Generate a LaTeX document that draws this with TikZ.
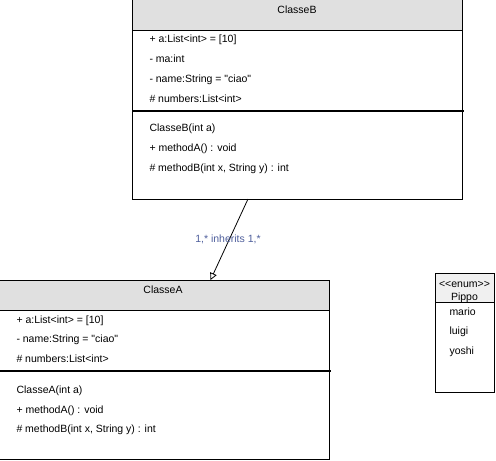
\documentclass[tikz,border=0pt]{standalone}
\usepackage{fontspec}
\setmainfont{Liberation Sans}
\usetikzlibrary{arrows.meta}
\definecolor{headgray}{HTML}{E0E0E0}
\definecolor{enumgray}{HTML}{F0F0F0}
\definecolor{linkblue}{HTML}{4F5F9C}
\begin{document}
\begin{tikzpicture}[x=1pt, y=-1pt, line width=1pt,
    member/.style={anchor=base west, inner sep=0pt,
        font=\fontsize{10.5}{12}\selectfont},
    classname/.style={anchor=base, inner sep=0pt,
        font=\fontsize{10.5}{12}\selectfont},
    separator/.style={line width=2pt}]
\useasboundingbox (0,0) rectangle (496,461);
% ClasseB
\begin{scope}
    \draw[fill=headgray] (132,-2) rectangle (462,30);
    \draw (132,30) rectangle (462,199);
    \draw[separator] (132,110.5) -- (464,110.5);
    \node[classname] (bName) at (297,13) {ClasseB};
    \node[member] (bAttrA) at (149,42) {+ a:List<int> = [10]};
    \node[member] (bAttrMa) at (149,62) {- ma:int};
    \node[member] (bAttrName) at (149,82)
        {- name:String = \textquotedbl ciao\textquotedbl};
    \node[member] (bAttrNum) at (149,102) {\# numbers:List<int>};
    \node[member] (bCtor) at (149,131) {ClasseB(int a)};
    \node[member] (bMethA) at (149,151) {+ methodA() : void};
    \node[member] (bMethB) at (149,171) {\# methodB(int x, String y) : int};
    \coordinate (bFoot) at (248,199);
\end{scope}
% ClasseA
\begin{scope}
    \draw[fill=headgray] (-3,280) rectangle (329,310);
    \draw (-3,310) rectangle (329,459);
    \draw[separator] (-3,370.5) -- (331,370.5);
    \node[classname] (aName) at (163,293) {ClasseA};
    \node[member] (aAttrA) at (16,323) {+ a:List<int> = [10]};
    \node[member] (aAttrName) at (16,342)
        {- name:String = \textquotedbl ciao\textquotedbl};
    \node[member] (aAttrNum) at (16,362) {\# numbers:List<int>};
    \node[member] (aCtor) at (16,393) {ClasseA(int a)};
    \node[member] (aMethA) at (16,413) {+ methodA() : void};
    \node[member] (aMethB) at (16,432) {\# methodB(int x, String y) : int};
    \coordinate (aHead) at (210.5,280);
\end{scope}
% Pippo
\begin{scope}
    \draw[fill=enumgray] (435,273) rectangle (494,302);
    \draw (435,302) rectangle (494,392);
    \node[classname] (pStereo) at (464.5,287) {<{}<enum>{}>};
    \node[classname] (pName) at (464.5,300.5) {Pippo};
    \node[member] (pMario) at (449,315) {mario};
    \node[member] (pLuigi) at (449,334) {luigi};
    \node[member] (pYoshi) at (449,354) {yoshi};
\end{scope}
\draw[-{Triangle[open, length=7pt, width=7pt]}, line width=0.8pt]
    (bFoot) -- (aHead);
\node[classname, text=linkblue] (inherits) at (228,242) {1,* inherits 1,*};
\end{tikzpicture}
\end{document}
